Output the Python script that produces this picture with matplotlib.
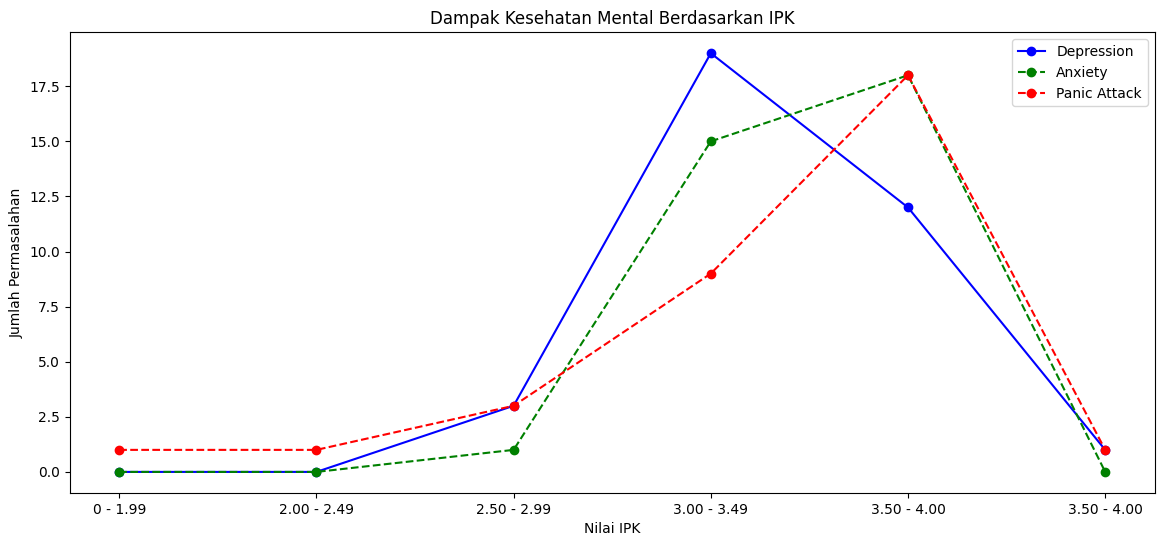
import numpy as np
import matplotlib.pyplot as plt

kategori = ["0 - 1.99", "2.00 - 2.49", "2.50 - 2.99", "3.00 - 3.49", "3.50 - 4.00", "3.50 - 4.00"]
depression = [0, 0, 3, 19, 12, 1]
anxiety = [0, 0, 1, 15, 18, 0]
panic = [1, 1, 3, 9, 18, 1]

x = np.arange(len(kategori))

fig = plt.figure(figsize=(11.65, 5.47), dpi=100)
ax = fig.add_axes([0.060, 0.099, 0.931, 0.842])
ax.plot(x, depression, marker="o", linestyle="-", color="blue", label="Depression")
ax.plot(x, anxiety, marker="o", linestyle="--", color="green", label="Anxiety")
ax.plot(x, panic, marker="o", linestyle="--", color="red", label="Panic Attack")
ax.set_xticks(x)
ax.set_xticklabels(kategori)
ax.set_title("Dampak Kesehatan Mental Berdasarkan IPK")
ax.set_xlabel("Nilai IPK")
ax.set_ylabel("Jumlah Permasalahan")
ax.legend(loc="upper right")

fig.savefig("out.png", dpi=100)
